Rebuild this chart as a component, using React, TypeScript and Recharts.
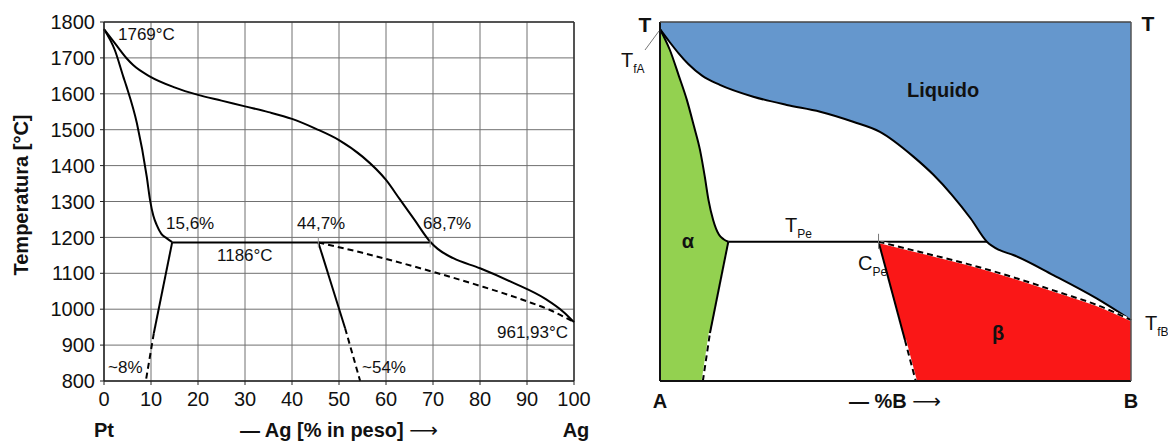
import { ComposedChart, Line, Area, XAxis, YAxis, CartesianGrid, ReferenceLine } from 'recharts';

type P = [number, number];

// --- left diagram: Pt-Ag, [% Ag, °C] ---
const liquidusPtAg: P[] = [
  [0, 1780], [2.3, 1741], [4.8, 1699], [6.2, 1680], [9.8, 1648], [15, 1618], [20, 1597],
  [25, 1581], [30, 1565], [35, 1549], [40, 1530], [45, 1503], [50, 1471], [55, 1425],
  [60, 1360], [63, 1305], [66, 1250], [69.4, 1188], [71, 1168], [74.3, 1142],
  [80, 1114], [87, 1074], [94, 1028], [97.7, 993], [100, 964],
];
const solidusPt: P[] = [
  [0, 1780], [2.3, 1722], [4.1, 1648], [4.8, 1620], [7, 1518], [9.1, 1369], [9.8, 1304],
  [10.5, 1260], [11.2, 1235], [12.2, 1210], [13.3, 1198], [14.5, 1187],
];
const solvusPt: P[] = [[14.5, 1186], [10.6, 933]];
const solvusPtExtra: P[] = [[10.6, 933], [8.9, 800]];
const solvusAg: P[] = [[45.6, 1186], [51.3, 947]];
const solvusAgExtra: P[] = [[51.3, 947], [54.5, 800]];
const solidusAg: P[] = [[45.6, 1186], [55, 1157], [70, 1104], [80, 1065], [90, 1022], [95, 997], [100, 964]];
const peritecticPtAg: P[] = [[14.5, 1186], [69.4, 1186]];

// --- right diagram: schematic A-B, same scales ---
const liquidusAB: P[] = [
  [0, 1780], [2, 1745], [4, 1712], [6, 1683], [9, 1650], [12.7, 1625], [19.8, 1592],
  [26.9, 1569], [34, 1550], [41, 1522], [46.7, 1494], [53.8, 1425], [58, 1375],
  [62, 1318], [66, 1252], [69.4, 1188], [72, 1165], [75, 1151], [83.5, 1095],
  [92.7, 1030], [100, 970],
];
const solidusA: P[] = [
  [0, 1780], [2.1, 1722], [4, 1650], [5.7, 1583], [7.2, 1510], [8.5, 1443], [9.5, 1370],
  [10.3, 1304], [11.3, 1248], [12.5, 1208], [13.5, 1195], [14.5, 1188],
];
const solvusA: P[] = [[10.6, 933], [14.5, 1188]];
const solvusAExtra: P[] = [[9.1, 800], [10.6, 933]];
const solvusB: P[] = [[46.4, 1188], [52, 914]];
const solvusBExtra: P[] = [[52, 914], [54.3, 800]];
const solidusB: P[] = [[46.4, 1188], [55, 1160], [65, 1127], [75, 1089], [85, 1046], [92.7, 1012], [100, 970]];
const peritecticAB: P[] = [[14.5, 1188], [69.4, 1188]];

const xTicks = [0, 10, 20, 30, 40, 50, 60, 70, 80, 90, 100];
const yTicks = [800, 900, 1000, 1100, 1200, 1300, 1400, 1500, 1600, 1700, 1800];

const pts = (a: P[]) => a.map(([x, t]) => ({ x, t }));

const FONT = '"Liberation Sans", Arial, Helvetica, sans-serif';
const BLUE = '#6597cd';
const GREEN = '#93d150';
const RED = '#fa1717';

function curve(data: P[], opts: { dashed?: boolean; curved?: boolean; underlay?: boolean } = {}) {
  const { dashed, curved, underlay } = opts;
  return [
    underlay ? (
      <Line key="u" data={pts(data)} dataKey="t" type={curved ? 'monotone' : 'linear'} stroke="#fff"
        strokeWidth={2.5} dot={false} activeDot={false} isAnimationActive={false} />
    ) : null,
    <Line key="l" data={pts(data)} dataKey="t" type={curved ? 'monotone' : 'linear'} stroke="#000"
      strokeWidth={2} strokeDasharray={dashed ? '6 4' : undefined} dot={false} activeDot={false}
      isAnimationActive={false} />,
  ];
}

function fill(data: P[], color: string, base: number, curved = false) {
  return (
    <Area data={pts(data)} dataKey="t" type={curved ? 'monotone' : 'linear'} baseValue={base}
      fill={color} fillOpacity={1} stroke="none" dot={false} activeDot={false} isAnimationActive={false} />
  );
}

function LeftChart() {
  return (
    <ComposedChart width={600} height={441} margin={{ top: 22, right: 26, bottom: 30, left: 54 }}>
      <CartesianGrid stroke="#707070" strokeWidth={1} />
      <XAxis type="number" dataKey="x" domain={[0, 100]} ticks={xTicks} interval={0} height={30}
        tick={{ fontSize: 20, fill: '#111' }} tickSize={4} tickMargin={7}
        axisLine={{ stroke: '#222', strokeWidth: 1.5 }} tickLine={{ stroke: '#222' }} />
      <YAxis type="number" domain={[800, 1800]} ticks={yTicks} interval={0} width={50}
        tick={{ fontSize: 20, fill: '#111' }} tickSize={4} tickMargin={5}
        axisLine={{ stroke: '#222', strokeWidth: 1.5 }} tickLine={{ stroke: '#222' }} />
      <ReferenceLine y={1800} stroke="#333" strokeWidth={1.5} />
      <ReferenceLine x={100} stroke="#333" strokeWidth={1.5} />
      {curve(liquidusPtAg, { curved: true })}
      {curve(solidusPt, { curved: true })}
      {curve(peritecticPtAg)}
      {curve(solvusPt)}
      {curve(solvusPtExtra, { dashed: true })}
      {curve(solvusAg)}
      {curve(solvusAgExtra, { dashed: true })}
      {curve(solidusAg, { dashed: true, curved: true })}
      <ReferenceLine segment={[{ x: 45.6, y: 1172 }, { x: 45.6, y: 1200 }]} stroke="#999" />
      <ReferenceLine segment={[{ x: 69.4, y: 1172 }, { x: 69.4, y: 1200 }]} stroke="#999" />
    </ComposedChart>
  );
}

function RightChart() {
  // two-phase gaps below the solvus lines, closed along the peritectic line
  const gapA: P[] = [...solvusAExtra, solvusA[1], [solvusA[1][0] + 1, peritecticAB[0][1]]];
  const gapB: P[] = [[solvusB[0][0] - 1, peritecticAB[0][1]], solvusB[0], solvusB[1], solvusBExtra[1]];
  return (
    <ComposedChart width={568} height={441} margin={{ top: 22, right: 37, bottom: 60, left: 60 }}>
      <XAxis type="number" dataKey="x" domain={[0, 100]} hide />
      <YAxis type="number" domain={[800, 1800]} hide />
      {fill(liquidusAB, BLUE, 1800, true)}
      {fill(solidusA, GREEN, 800, true)}
      {fill(gapA, '#fff', 800)}
      {fill(solidusB, RED, 800, true)}
      {fill(gapB, '#fff', 800)}
      {curve(liquidusAB, { curved: true })}
      {curve(solidusA, { curved: true })}
      {curve(peritecticAB)}
      {curve(solvusA)}
      {curve(solvusAExtra, { dashed: true, underlay: true })}
      {curve(solvusB)}
      {curve(solvusBExtra, { dashed: true, underlay: true })}
      {curve(solidusB, { dashed: true, curved: true, underlay: true })}
      <ReferenceLine segment={[{ x: 46.4, y: 1168 }, { x: 46.4, y: 1210 }]} stroke="#777" />
      <ReferenceLine x={0} stroke="#111" strokeWidth={2} />
      <ReferenceLine y={800} stroke="#111" strokeWidth={2} />
      <ReferenceLine y={1800} stroke="#444" strokeWidth={1.5} />
      <ReferenceLine x={100} stroke="#555" strokeWidth={1.5} />
    </ComposedChart>
  );
}

function Sub({ x, y, main, sub, size = 20 }: { x: number; y: number; main: string; sub: string; size?: number }) {
  return (
    <text x={x} y={y} fontSize={size} fill="#111">
      {main}
      <tspan fontSize={12} dy={6}>{sub}</tspan>
    </text>
  );
}

function Arrow() {
  return <tspan fontFamily="DejaVu Sans" fontWeight={400}>⟶</tspan>;
}

function Annotations() {
  const n = { fontSize: 17, fill: '#111' };
  const b = { fontSize: 20, fontWeight: 700, fill: '#111' };
  return (
    <svg width={1168} height={441} style={{ position: 'absolute', left: 0, top: 0, pointerEvents: 'none' }}>
      <text x={118} y={40} {...n}>1769°C</text>
      <text x={166} y={229} {...n}>15,6%</text>
      <text x={297} y={229} {...n}>44,7%</text>
      <text x={423} y={229} {...n}>68,7%</text>
      <text x={217} y={261} {...n}>1186°C</text>
      <text x={108} y={373} {...n}>~8%</text>
      <text x={362} y={373} {...n}>~54%</text>
      <text x={497} y={338} {...n}>961,93°C</text>
      <text transform="translate(28,195) rotate(-90)" textAnchor="middle" {...b}>Temperatura [°C]</text>
      <text x={104} y={437} textAnchor="middle" {...b}>Pt</text>
      <text x={339} y={437} textAnchor="middle" {...b}>— Ag [% in peso] <Arrow /></text>
      <text x={576} y={437} textAnchor="middle" {...b}>Ag</text>

      <text x={645} y={32} textAnchor="middle" {...b} fontSize={21}>T</text>
      <text x={1148} y={31} textAnchor="middle" {...b} fontSize={21}>T</text>
      <line x1={659} y1={31} x2={645} y2={50} stroke="#777" strokeWidth={1} />
      <Sub x={621} y={67} main="T" sub="fA" />
      <text x={907} y={97} {...b}>Liquido</text>
      <text x={688} y={248} textAnchor="middle" {...b}>α</text>
      <Sub x={785} y={232} main="T" sub="Pe" />
      <Sub x={858} y={270} main="C" sub="Pe" />
      <text x={998} y={340} textAnchor="middle" {...b}>β</text>
      <Sub x={1145} y={330} main="T" sub="fB" />
      <text x={660} y={408} textAnchor="middle" {...b}>A</text>
      <text x={895} y={408} textAnchor="middle" {...b}>— %B <Arrow /></text>
      <text x={1131} y={408} textAnchor="middle" {...b}>B</text>
    </svg>
  );
}

export default function App() {
  return (
    <div style={{ position: 'relative', width: 1168, height: 441, fontFamily: FONT, background: '#fff' }}>
      <style>{'body{margin:0}'}</style>
      <div style={{ position: 'absolute', left: 0, top: 0 }}>
        <LeftChart />
      </div>
      <div style={{ position: 'absolute', left: 600, top: 0 }}>
        <RightChart />
      </div>
      <Annotations />
    </div>
  );
}
